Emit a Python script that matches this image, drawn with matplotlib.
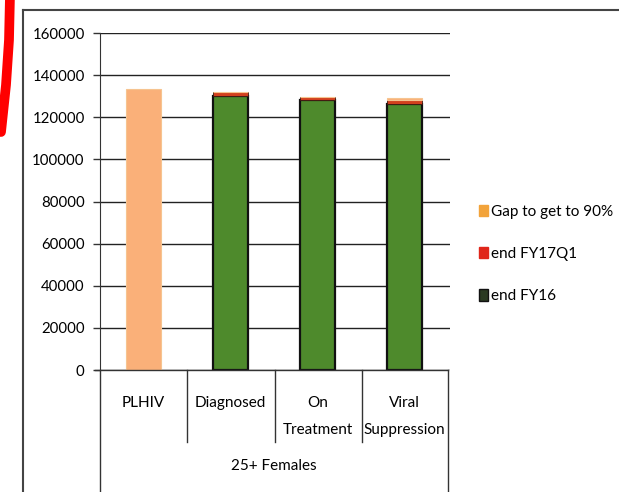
import matplotlib.pyplot as plt
from matplotlib.lines import Line2D
from matplotlib.patches import Patch

categories = ["PLHIV", "Diagnosed", "On\nTreatment", "Viral\nSuppression"]
group_label = "25+ Females"
end_fy16 = [0, 130000, 128000, 126300]
end_fy17q1 = [0, 1900, 1700, 2000]
gap_90 = [133500, 0, 0, 800]
yticks = [0, 20000, 40000, 60000, 80000, 100000, 120000, 140000, 160000]

green = "#4E8A2C"
red = "#D2401E"
orange = "#FAB079"

plt.rcParams['font.family'] = ['Lato', 'DejaVu Sans']

fig = plt.figure(figsize=(6.19, 4.92), dpi=100)
W, H = 619, 492
ax = fig.add_axes([100 / W, 1 - 370 / H, 350 / W, 337 / H])

x = range(len(categories))
ax.bar(x, end_fy16, width=0.4, color=green, edgecolor="#111111", linewidth=1.6, zorder=3)
ax.bar(x, end_fy17q1, width=0.4, bottom=end_fy16, color=red, edgecolor="#3a1a10",
       linewidth=0.6, zorder=3)
bottoms = [a + b for a, b in zip(end_fy16, end_fy17q1)]
ax.bar(x, gap_90, width=0.4, bottom=bottoms, color=orange, edgecolor="#F6C490",
       linewidth=0.8, zorder=3)

ax.set_xlim(-0.5, 3.52)
ax.set_ylim(0, 160000)
ax.set_yticks(yticks)
ax.set_yticklabels([str(v) for v in yticks], fontsize=10.8)
ax.yaxis.grid(True, color="#222222", linewidth=1)
ax.set_axisbelow(True)
for side in ["top", "right", "bottom"]:
    ax.spines[side].set_visible(False)
ax.spines["left"].set_color("#333333")
ax.tick_params(axis="y", length=5, width=1, color="#333333", pad=6)
ax.set_xticks([])


def fx(px):
    return px / W


def fy(py):
    return 1 - py / H


# category table below the axis
fig.add_artist(Line2D([fx(95), fx(448)], [fy(370), fy(370)], color="#333333", lw=1))
for bx in [187, 275, 362]:
    fig.add_artist(Line2D([fx(bx), fx(bx)], [fy(370), fy(442)], color="#333333", lw=1))
for bx in [100, 448]:
    fig.add_artist(Line2D([fx(bx), fx(bx)], [fy(370), fy(492)], color="#333333", lw=1))
for i, lab in enumerate(categories):
    cx = 100 + (i + 0.5) * 87
    for k, line in enumerate(lab.split("\n")):
        fig.text(fx(cx), fy(403 + 27 * k), line, ha="center", va="center", fontsize=11)
fig.text(fx(274), fy(466), group_label, ha="center", va="center", fontsize=11)

# outer frame
fig.add_artist(Line2D([fx(23), fx(23)], [fy(10), 0], color="#444444", lw=1.5))
fig.add_artist(Line2D([fx(23), 1], [fy(10), fy(10)], color="#444444", lw=1.5))

# red stroke on the left edge
fig.add_artist(Line2D([fx(10), fx(9), fx(6), fx(1)], [1.01, fy(40), fy(85), fy(132)],
                      color="#FF0000", lw=7, solid_capstyle="round"))

handles = [Patch(facecolor="#F2A33A", edgecolor="#F2A33A"),
           Patch(facecolor="#E0261A", edgecolor="#E0261A"),
           Patch(facecolor="#2A3A22", edgecolor="#111111")]
labels = ["Gap to get to 90%", "end FY17Q1", "end FY16"]
fig.legend(handles, labels, loc="center left", bbox_to_anchor=(fx(473), fy(254)),
           frameon=False, fontsize=11, handlelength=0.55, handleheight=0.75,
           handletextpad=0.25, labelspacing=1.85, borderaxespad=0)

fig.savefig("out.png", dpi=100)
